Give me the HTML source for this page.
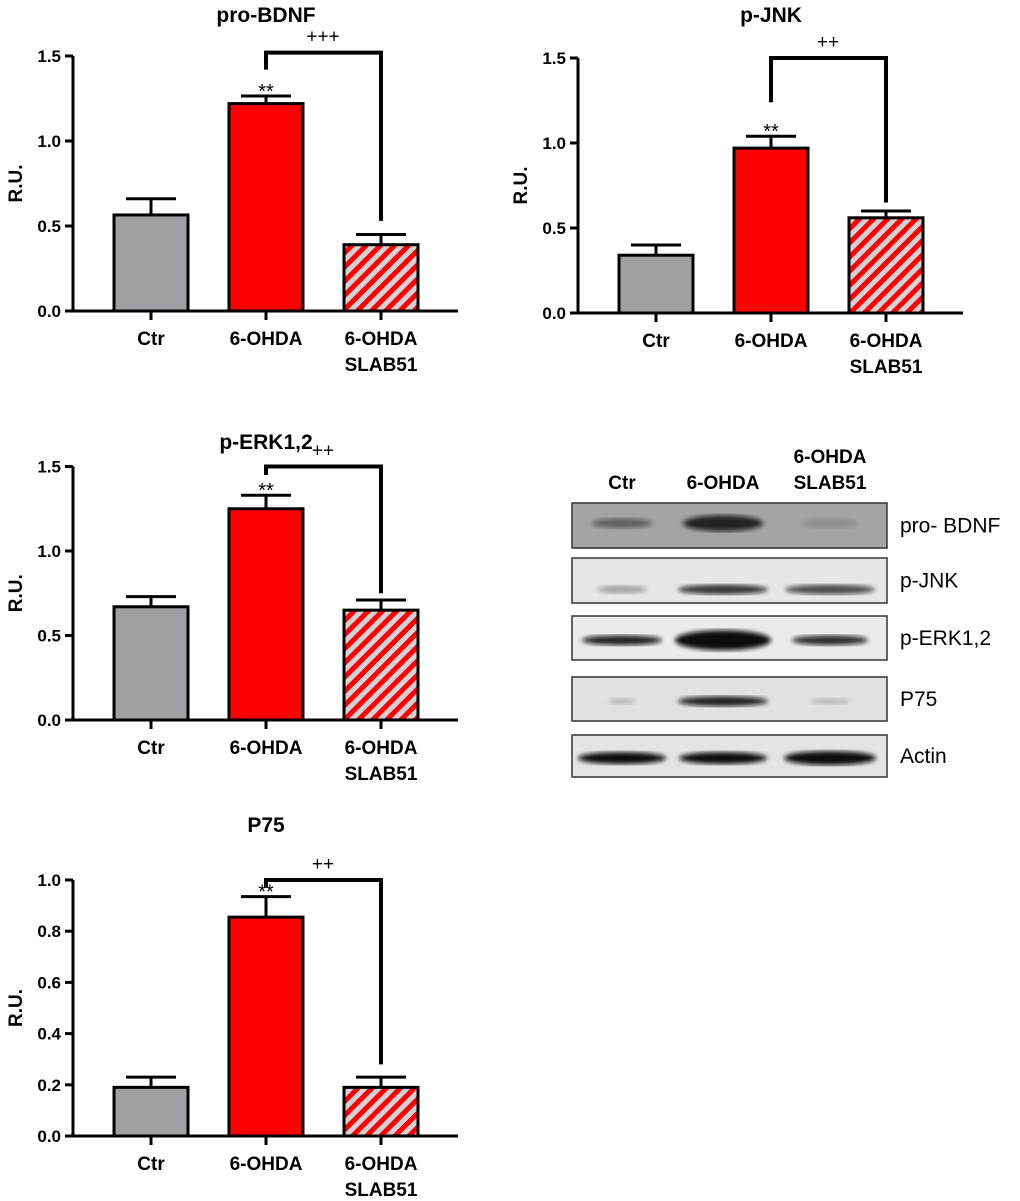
<!DOCTYPE html>
<html><head><meta charset="utf-8"><style>
body{margin:0;background:#fff}
svg{display:block;font-family:"Liberation Sans",Arial,sans-serif}
</style></head><body>
<svg id="s" width="1020" height="1201" viewBox="0 0 1020 1201" xmlns="http://www.w3.org/2000/svg">
<defs>
<pattern id="h" patternUnits="userSpaceOnUse" width="10" height="10" patternTransform="rotate(45)">
<rect width="10" height="10" fill="#d0d4d6"/><rect width="5" height="10" fill="#ff0000"/>
</pattern>
<filter id="bl"><feGaussianBlur stdDeviation="2.5"/></filter>
</defs>
</svg>
<script>
const s=document.getElementById('s');let o='';
function chart(dx,dy,title,scale,max,ticks,vals,errs,brTop,brL,brR,sig,titleY){
 const ax=73+dx,y0=311+dy,Y=v=>y0-v*scale;
 o+=`<text x="${266+dx}" y="${titleY}" font-size="21" font-weight="bold" text-anchor="middle">${title}</text>`;
 o+=`<line x1="${ax}" y1="${Y(max)}" x2="${ax}" y2="${y0}" stroke="#000" stroke-width="3"/>`;
 o+=`<line x1="${ax}" y1="${y0}" x2="${458+dx}" y2="${y0}" stroke="#000" stroke-width="3"/>`;
 ticks.forEach(t=>{o+=`<line x1="${ax-8}" y1="${Y(t)}" x2="${ax}" y2="${Y(t)}" stroke="#000" stroke-width="3"/><text x="${ax-12}" y="${Y(t)+6}" font-size="17" font-weight="bold" text-anchor="end">${t.toFixed(1)}</text>`});
 o+=`<text transform="translate(${22+dx},${(Y(max)+y0)/2}) rotate(-90)" font-size="19" font-weight="bold" text-anchor="middle">R.U.</text>`;
 const xs=[114,229,344],fills=['#a0a0a4','#ff0000','url(#h)'],labs=['Ctr','6-OHDA','6-OHDA'];
 xs.forEach((x,i)=>{const c=x+37+dx;
  o+=`<line x1="${c}" y1="${Y(errs[i])}" x2="${c}" y2="${Y(vals[i])}" stroke="#000" stroke-width="3"/><line x1="${c-25}" y1="${Y(errs[i])}" x2="${c+25}" y2="${Y(errs[i])}" stroke="#000" stroke-width="3"/>`;
  o+=`<rect x="${x+dx}" y="${Y(vals[i])}" width="74" height="${vals[i]*scale}" fill="${fills[i]}" stroke="#000" stroke-width="3"/>`;
  o+=`<line x1="${c}" y1="${y0}" x2="${c}" y2="${y0+9}" stroke="#000" stroke-width="3"/>`;
  o+=`<text x="${c}" y="${y0+34}" font-size="19" font-weight="bold" text-anchor="middle">${labs[i]}</text>`;
 });
 o+=`<text x="${381+dx}" y="${y0+60}" font-size="19" font-weight="bold" text-anchor="middle">SLAB51</text>`;
 o+=`<text x="${266+dx}" y="${Y(errs[1])+2}" font-size="20" text-anchor="middle">**</text>`;
 o+=`<polyline points="${266+dx},${Y(brL)} ${266+dx},${Y(brTop)} ${381+dx},${Y(brTop)} ${381+dx},${Y(brR)}" fill="none" stroke="#000" stroke-width="4"/>`;
 o+=`<text x="${323+dx}" y="${Y(brTop)-10}" font-size="19" text-anchor="middle">${sig}</text>`;
}
chart(0,0,'pro-BDNF',170,1.5,[0,0.5,1,1.5],[0.565,1.22,0.39],[0.66,1.265,0.45],1.52,1.42,0.53,'+++',22);
chart(505,2,'p-JNK',170,1.5,[0,0.5,1,1.5],[0.34,0.97,0.56],[0.40,1.04,0.60],1.5,1.24,0.65,'++',22);
chart(0,409,'p-ERK1,2',169,1.5,[0,0.5,1,1.5],[0.67,1.25,0.65],[0.73,1.33,0.71],1.5,1.45,0.75,'++',449);
chart(0,825,'P75',256,1.0,[0,0.2,0.4,0.6,0.8,1.0],[0.19,0.855,0.19],[0.23,0.935,0.23],1.0,0.97,0.28,'++',832);
// blot
o+=`<g font-size="19" font-weight="bold" text-anchor="middle"><text x="622" y="489">Ctr</text><text x="723" y="489">6-OHDA</text><text x="830" y="463">6-OHDA</text><text x="830" y="489">SLAB51</text></g>`;
const rows=[[503,548,'#a4a4a4','pro- BDNF'],[558,603,'#e6e6e6','p-JNK'],[616,660,'#ebebeb','p-ERK1,2'],[677,721,'#e2e2e2','P75'],[735,777,'#e4e4e4','Actin']];
const bands=[
 [[622,30,5,0.45],[723,40,8,0.85],[830,28,5,0.15]],
 [[622,25,4,0.3],[723,45,5,0.8],[830,45,5,0.7]],
 [[622,40,5,0.9],[723,48,10,1],[830,38,5,0.85]],
 [[622,14,3,0.2],[723,45,5,0.9],[830,20,3,0.2]],
 [[622,44,6,1],[723,44,6,1],[830,46,7,1]]];
const cy=[0.45,0.7,0.55,0.55,0.55];
rows.forEach((r,i)=>{
 o+=`<svg x="572" y="${r[0]}" width="315" height="${r[1]-r[0]}" overflow="hidden"><rect width="315" height="${r[1]-r[0]}" fill="${r[2]}"/>`;
 const yc=(r[1]-r[0])*cy[i];
 bands[i].forEach(b=>{o+=`<ellipse cx="${b[0]-572}" cy="${yc}" rx="${b[1]}" ry="${b[2]}" fill="#111" opacity="${b[3]}" filter="url(#bl)"/>`});
 o+=`</svg><rect x="572" y="${r[0]}" width="315" height="${r[1]-r[0]}" fill="none" stroke="#333" stroke-width="1.5"/>`;
 o+=`<text x="900" y="${(r[0]+r[1])/2+7}" font-size="21">${r[3]}</text>`;
});
s.insertAdjacentHTML('beforeend',o);
</script>
</body></html>
